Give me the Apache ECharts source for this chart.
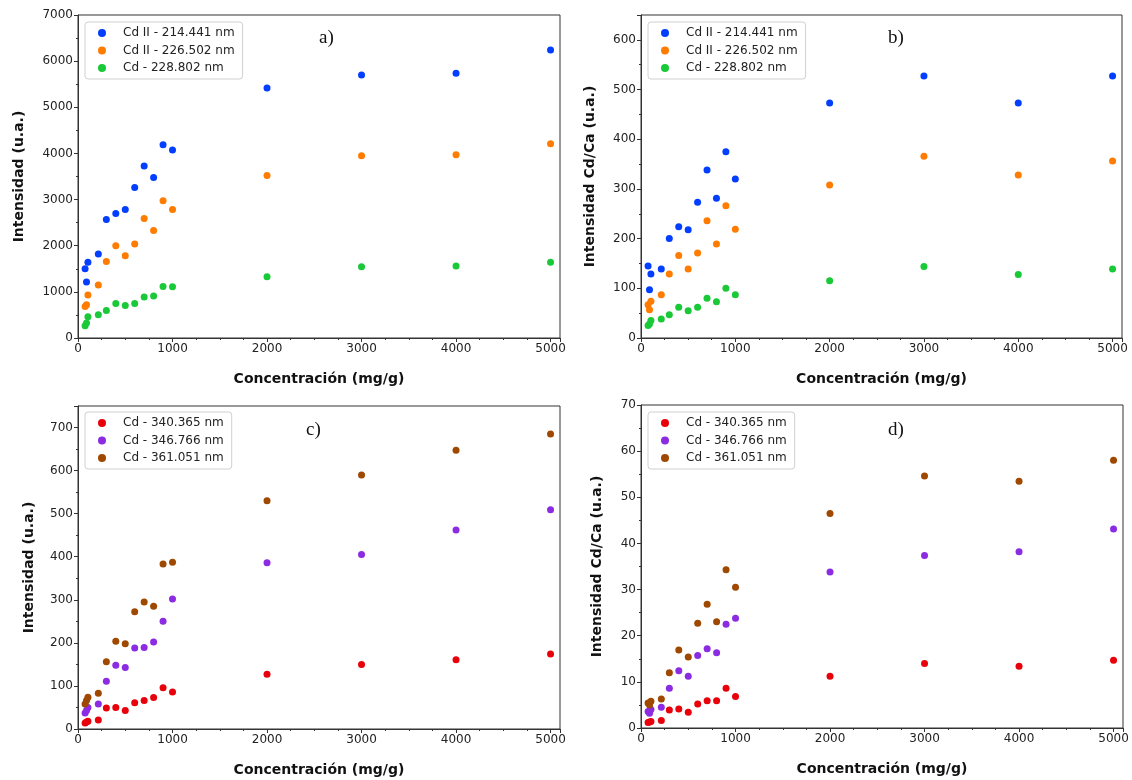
<!DOCTYPE html>
<html>
<head>
<meta charset="utf-8">
<script src="https://cdn.jsdelivr.net/npm/echarts@6/dist/echarts.min.js"></script>
<style>
html,body{margin:0;padding:0;background:#fff;}
#main{width:1132px;height:780px;}
</style>
</head>
<body>
<div id="main"></div>
<script>
// Concentrations (mg/g)
var conc = [75, 90, 105, 215, 300, 400, 500, 600, 700, 800, 900, 1000, 2000, 3000, 4000, 5000];

// Panel a) Intensidad (u.a.)
var a_cd214 = [1502, 1213, 1639, 1820, 2570, 2700, 2787, 3264, 3727, 3480, 4188, 4073, 5420, 5700, 5740, 6240];
var a_cd226 = [685, 722, 932, 1148, 1660, 2000, 1783, 2037, 2592, 2332, 2975, 2787, 3520, 3950, 3970, 4210];
var a_cd228 = [267, 325, 462, 505, 598, 750, 707, 750, 888, 910, 1118, 1112, 1330, 1545, 1560, 1640];

// Panel b) Intensidad Cd/Ca (u.a.)
var b_cd214 = [145, 97, 129, 139, 200, 224, 218, 273, 338, 281, 375, 320, 473, 527, 473, 527];
var b_cd226 = [67, 57, 74, 87, 129, 166, 139, 171, 236, 189, 266, 219, 308, 366, 328, 356];
var b_cd228 = [25, 28, 35, 38, 47, 62, 55, 62, 80, 73, 100, 87, 115, 144, 128, 139];

// Panel c) Intensidad (u.a.)
var c_cd340 = [14, 16, 18, 21, 49, 50, 43, 61, 66, 73, 96, 86, 127, 150, 161, 174];
var c_cd346 = [37, 43, 50, 58, 111, 148, 143, 188, 189, 202, 250, 302, 386, 405, 462, 509];
var c_cd361 = [58, 66, 74, 83, 156, 204, 198, 272, 295, 285, 383, 387, 530, 590, 647, 685];

// Panel d) Intensidad Cd/Ca (u.a.)
var d_cd340 = [1.2, 1.3, 1.4, 1.6, 3.9, 4.1, 3.4, 5.2, 5.9, 5.9, 8.6, 6.8, 11.2, 14.0, 13.4, 14.7];
var d_cd346 = [3.6, 3.2, 4.0, 4.5, 8.6, 12.4, 11.2, 15.7, 17.2, 16.3, 22.5, 23.8, 33.8, 37.4, 38.2, 43.1];
var d_cd361 = [5.4, 5.0, 5.8, 6.3, 12.0, 16.9, 15.4, 22.7, 26.8, 23.0, 34.3, 30.5, 46.5, 54.6, 53.5, 58.0];

var names1 = ['Cd II - 214.441 nm', 'Cd II - 226.502 nm', 'Cd - 228.802 nm'];
var names2 = ['Cd - 340.365 nm', 'Cd - 346.766 nm', 'Cd - 361.051 nm'];
var colors1 = ['#023eff', '#ff7c00', '#1ac938'];
var colors2 = ['#e8000b', '#8b2be2', '#9f4800'];

var xTitle = 'Concentración (mg/g)';
var yTitle1 = 'Intensidad (u.a.)';
var yTitle2 = 'Intensidad Cd/Ca (u.a.)';
var panelLabels = ['a)', 'b)', 'c)', 'd)'];

var FONT = 'DejaVu Sans';

function pairs(ys) { return conc.map(function (x, i) { return [x, ys[i]]; }); }
function plain(v) { return String(v); }

var grids = [
  {left: 78, top: 15, width: 482, height: 323},
  {left: 641, top: 15, width: 481, height: 323},
  {left: 78, top: 406, width: 482, height: 323},
  {left: 641, top: 405, width: 482, height: 323}
];
grids.forEach(function (g) { g.show = true; g.borderColor = '#333'; g.borderWidth = 1; g.containLabel = false; });

function xAxis(i) {
  return {
    type: 'value', gridIndex: i, min: 0, max: 5100, interval: 1000,
    name: xTitle, nameLocation: 'middle', nameGap: 34,
    nameTextStyle: {fontFamily: FONT, fontWeight: 'bold', fontSize: 14, color: '#111'},
    axisLine: {show: true, lineStyle: {color: '#333'}},
    axisTick: {show: true, length: 4, lineStyle: {color: '#333'}},
    minorTick: {show: true, splitNumber: 4, length: 2, lineStyle: {color: '#333'}},
    axisLabel: {fontFamily: FONT, fontSize: 12, color: '#222', margin: 5, showMaxLabel: false, formatter: plain},
    splitLine: {show: false}
  };
}
function yAxis(i, max, interval, name, gap) {
  return {
    type: 'value', gridIndex: i, min: 0, max: max, interval: interval,
    name: name, nameLocation: 'middle', nameGap: gap,
    nameTextStyle: {fontFamily: FONT, fontWeight: 'bold', fontSize: 14, color: '#111'},
    axisLine: {show: true, lineStyle: {color: '#333'}},
    axisTick: {show: true, length: 4, lineStyle: {color: '#333'}},
    minorTick: {show: true, splitNumber: 2, length: 2, lineStyle: {color: '#333'}},
    axisLabel: {fontFamily: FONT, fontSize: 12, color: '#222', margin: 5, showMaxLabel: max % interval === 0, formatter: plain},
    splitLine: {show: false}
  };
}

var series = [];
function addSeries(idx, names, colors, datas) {
  names.forEach(function (n, k) {
    series.push({
      type: 'scatter', name: n, xAxisIndex: idx, yAxisIndex: idx,
      symbol: 'circle', symbolSize: 7,
      itemStyle: {color: colors[k], opacity: 1},
      data: pairs(datas[k])
    });
  });
}
addSeries(0, names1, colors1, [a_cd214, a_cd226, a_cd228]);
addSeries(1, names1, colors1, [b_cd214, b_cd226, b_cd228]);
addSeries(2, names2, colors2, [c_cd340, c_cd346, c_cd361]);
addSeries(3, names2, colors2, [d_cd340, d_cd346, d_cd361]);

function legend(left, top, names) {
  return {
    left: left, top: top, orient: 'vertical', data: names,
    icon: 'circle', itemWidth: 8, itemHeight: 8, itemGap: 3.5,
    padding: [4, 8, 4, 13],
    borderColor: '#d0d0d0', borderWidth: 1, borderRadius: 3,
    backgroundColor: 'rgba(255,255,255,0.85)',
    formatter: '{g| }{name}',
    textStyle: {fontFamily: FONT, fontSize: 12, color: '#222', lineHeight: 14,
      rich: {g: {width: 12}}},
    selectedMode: false
  };
}

var labelPos = [[327, 40], [896, 40], [314, 432], [896, 432]];

var chart = echarts.init(document.getElementById('main'), null, {renderer: 'canvas'});
chart.setOption({
  animation: false,
  backgroundColor: '#fff',
  grid: grids,
  xAxis: [xAxis(0), xAxis(1), xAxis(2), xAxis(3)],
  yAxis: [
    yAxis(0, 7000, 1000, yTitle1, 52),
    yAxis(1, 650, 100, yTitle2, 44),
    yAxis(2, 750, 100, yTitle1, 42),
    yAxis(3, 70, 10, yTitle2, 37)
  ],
  legend: [legend(85, 22, names1), legend(648, 22, names1), legend(85, 412, names2), legend(648, 412, names2)],
  graphic: panelLabels.map(function (t, i) {
    return {type: 'text', left: labelPos[i][0] - 8, top: labelPos[i][1] - 11,
      style: {text: t, font: '19px "Liberation Serif", "DejaVu Serif", serif', fill: '#111'}};
  }),
  series: series
});
</script>
</body>
</html>
